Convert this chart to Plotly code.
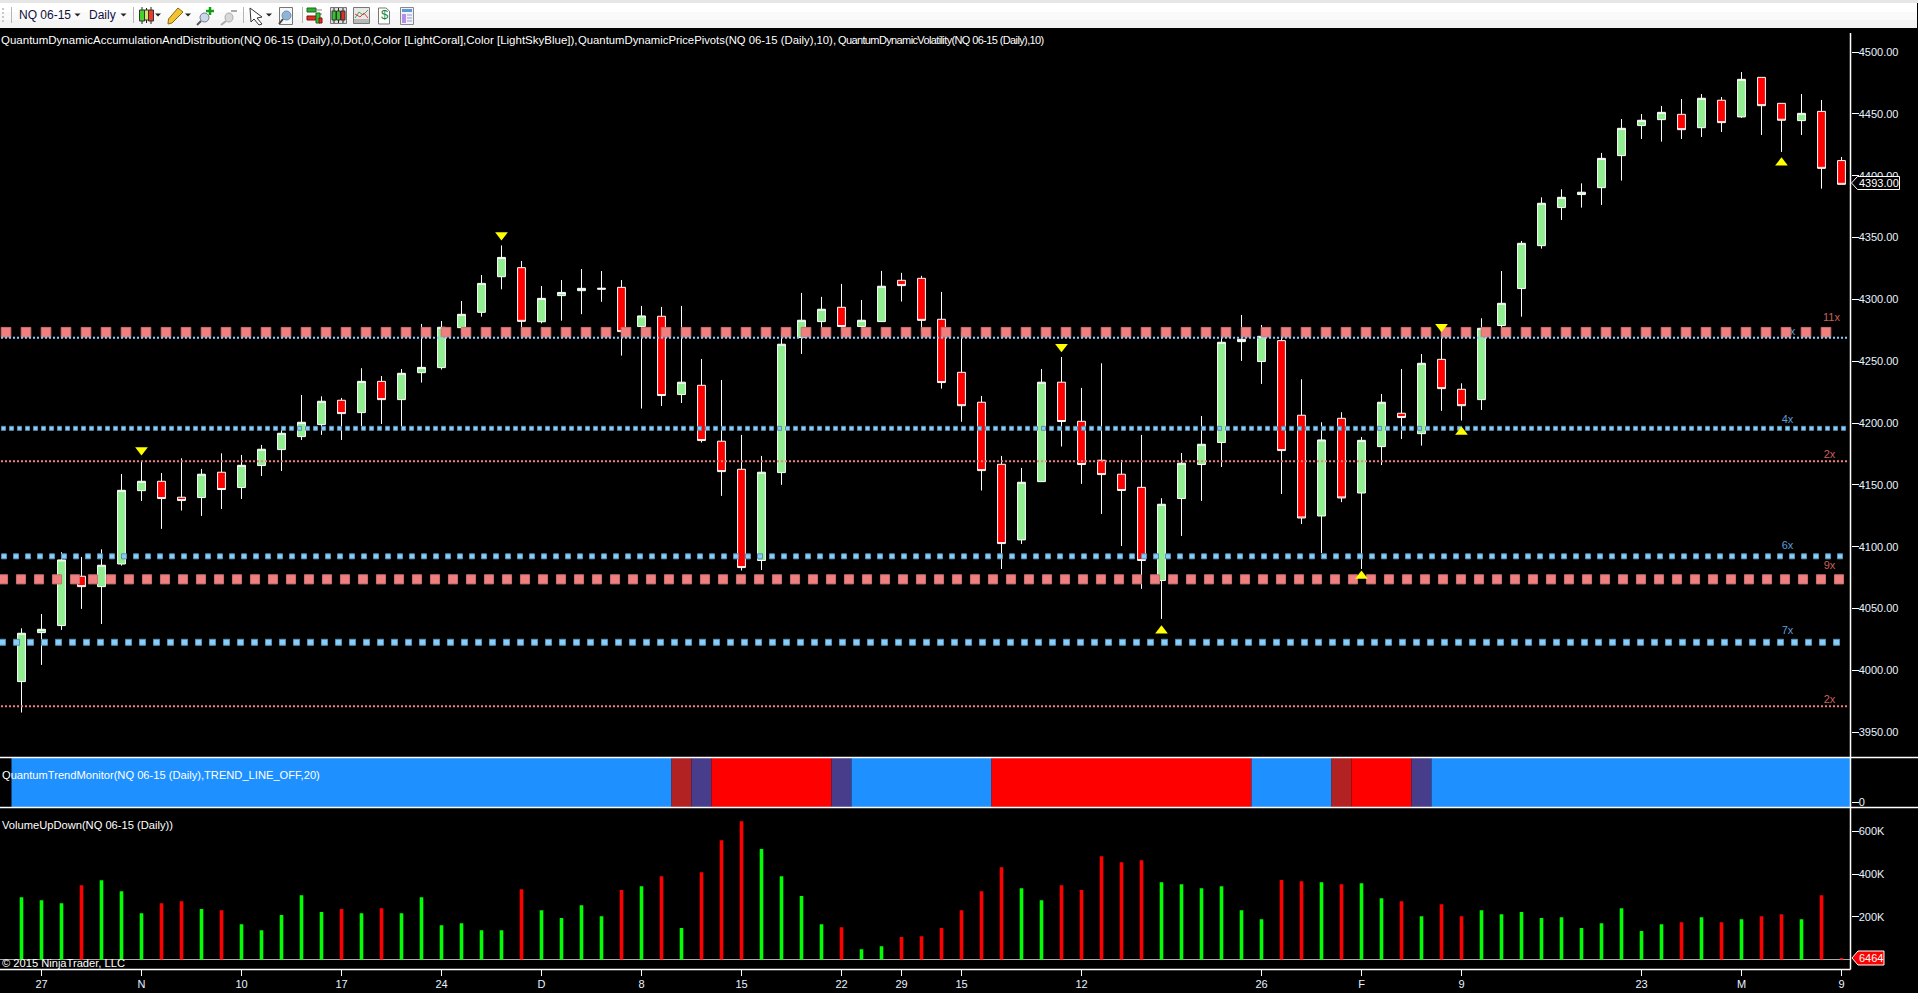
import numpy as np
import plotly.graph_objects as go

W, H = 1918, 993

# ---------- data ----------
opens = [3990.9,4030.5,4036.2,4076.1,4067.7,4086.0,4145.3,4152.9,4140.0,4139.7,4160.2,4147.8,4165.6,4178.5,4189.0,4198.7,4218.4,4208.4,4233.7,4218.9,
         4240.7,4244.8,4277.1,4289.5,4318.3,4325.6,4281.9,4303.0,4307.0,4308.1,4309.7,4278.0,4286.3,4223.0,4230.5,4185.3,4162.6,4088.8,4159.9,4269.1,
         4282.0,4293.6,4278.0,4282.0,4315.4,4317.0,4283.9,4241.0,4216.8,4166.6,4105.5,4152.6,4233.0,4201.4,4169.9,4158.6,4148.0,4072.6,4138.9,4166.4,
         4184.2,4265.8,4249.7,4266.6,4206.3,4124.8,4203.8,4143.4,4180.9,4207.9,4191.4,4251.5,4227.3,4218.9,4278.8,4308.7,4343.4,4374.2,4384.7,4390.3,
         4416.2,4440.5,4445.3,4449.6,4438.8,4461.0,4447.5,4479.5,4458.5,4444.5,4452.0,4412.2]
closes = [4030.0,4033.2,4089.3,4067.7,4085.0,4145.6,4152.9,4138.9,4137.3,4158.6,4146.2,4165.8,4178.8,4191.7,4200.6,4217.6,4207.6,4233.7,4218.9,4240.2,
          4245.0,4277.4,4287.9,4312.9,4333.9,4282.2,4300.8,4305.6,4308.9,4308.9,4273.9,4286.6,4222.2,4233.0,4185.8,4160.7,4083.1,4160.2,4263.7,4283.1,
          4292.0,4278.0,4283.1,4310.6,4311.1,4283.0,4232.7,4214.0,4161.5,4102.5,4152.1,4233.0,4201.2,4166.4,4158.3,4145.4,4088.8,4134.3,4167.5,4182.8,
          4265.3,4267.7,4270.1,4177.7,4123.2,4186.3,4139.4,4186.0,4216.8,4204.4,4248.3,4227.8,4214.0,4276.6,4296.8,4345.3,4377.7,4382.5,4386.6,4414.0,
          4438.3,4444.8,4451.2,4437.2,4462.6,4442.9,4477.9,4456.6,4444.8,4450.4,4405.9,4393.0]
highs = [4034.0,4045.6,4095.5,4091.7,4097.9,4158.8,4169.1,4159.6,4171.5,4162.9,4175.5,4174.2,4182.3,4194.4,4222.7,4221.6,4220.3,4244.3,4238.0,4243.7,
         4280.1,4282.5,4298.7,4319.7,4343.6,4331.0,4310.8,4315.6,4324.5,4322.9,4315.6,4294.7,4293.9,4294.7,4251.8,4234.8,4190.4,4173.4,4273.6,4305.2,
         4302.0,4312.5,4299.5,4323.0,4321.4,4319.0,4306.0,4273.6,4221.9,4173.4,4163.7,4243.7,4253.4,4228.4,4248.3,4170.2,4190.4,4139.2,4175.8,4205.7,
         4269.9,4287.4,4279.3,4270.4,4235.4,4200.6,4208.7,4188.7,4223.5,4243.7,4255.8,4275.0,4232.1,4284.7,4322.9,4347.2,4382.5,4389.0,4393.8,4418.4,
         4445.8,4449.9,4456.4,4462.0,4466.0,4463.6,4483.8,4479.5,4458.5,4466.0,4461.2,4415.1]
lows = [3965.9,4004.4,4032.7,4049.7,4037.5,4084.7,4137.0,4114.4,4129.2,4124.9,4130.5,4138.6,4157.2,4161.2,4186.3,4190.4,4186.3,4197.6,4199.2,4196.8,
        4232.7,4243.2,4272.5,4286.0,4308.1,4269.3,4280.6,4282.7,4288.0,4298.0,4254.5,4211.7,4213.8,4216.2,4184.2,4141.1,4080.7,4081.2,4150.0,4255.9,
        4276.6,4274.7,4277.4,4282.0,4298.2,4273.9,4227.8,4201.0,4145.4,4082.0,4102.2,4152.6,4181.0,4150.8,4126.5,4100.6,4065.9,4041.6,4108.7,4137.0,
        4164.5,4250.2,4231.6,4142.6,4118.3,4094.9,4136.0,4082.0,4166.0,4187.0,4181.7,4209.8,4202.0,4210.6,4271.2,4286.0,4341.0,4364.2,4374.2,4376.3,
        4396.0,4429.7,4427.5,4429.7,4431.3,4435.3,4446.7,4432.9,4419.2,4432.9,4389.5,4393.0]

volumes = [292,278,264,348,371,320,217,264,273,236,231,165,137,208,301,222,236,217,240,217,
           292,161,170,137,137,329,231,194,254,203,325,343,390,147,409,559,648,517,390,297,
           165,151,48,62,105,109,147,231,320,432,334,278,348,325,484,456,465,362,353,334,
           343,231,189,372,367,362,353,357,287,273,203,259,203,231,212,222,194,198,147,170,
           240,133,165,175,198,175,189,203,212,189,301,6.464]
volume_dir = list("GGGRGGGRRGRGGGGGRGRGGGGGGRGGGGRGRGRRRGGGGRGGRRRRRRGGRRRRRGGGGGGRRGRGGRGRRGGGGGGGGGGRGRGRRGRR")

trend_runs = [(33,"blue"),(1,"firebrick"),(1,"slate"),(6,"red"),(1,"slate"),(7,"blue"),(13,"red"),(4,"blue"),(1,"firebrick"),(3,"red"),(1,"slate"),(21,"blue")]

pivot_down_idx = [6,24,52,71]
pivot_down_price = [4178.2,4352.0,4261.7,4277.9]
pivot_up_idx = [57,67,72,88]
pivot_up_price = [4032.0,4076.3,4192.7,4410.5]

level_prices  = [4273.4,4268.9,4195.7,4169.0,4092.2,4073.6,4022.7,3970.9]
level_colors  = ["coral","blue","blue","coral","blue","coral","blue","coral"]
level_steps   = [20,4,8,4,12,18,14,4]
level_sizes   = [10,2,5,2,6,9.5,7,2]
level_starts  = [6,2,3.5,2,4,3,2.5,2]

label_text  = ["11x","9x","4x","2x","6x","9x","7x","2x"]
label_color = ["coral","blue","blue","coral","blue","coral","blue","coral"]
label_idx   = [90.5,88.4,88.3,90.4,88.3,90.4,88.3,90.4]
label_price = [4284.9,4273.6,4202.4,4174.1,4100.5,4084.4,4031.8,3976.0]

x_tick_idx  = [1,6,11,16,21,26,31,36,41,44,47,53,62,67,72,81,86,91]
x_tick_text = ["27","N","10","17","24","D","8","15","22","29","15","12","26","F","9","23","M","9"]
price_ticks = list(range(3950,4501,50))
volume_ticks = [200,400,600]
volume_tick_text = ["200K","400K","600K"]

# ---------- geometry helpers ----------
X0 = 21.5; DX = 20.0; AXIS_X = 1850.5
xrange_ = [-X0/DX, (AXIS_X-X0)/DX]
def px(x): return x/W
def py(y): return 1-y/H
def dom(t,b): return [py(b),py(t)]

FONT = "Liberation Sans"
TICK = "#e8f3ff"
COL = dict(coral="#F08080", blue="#87CEFA")
EDGE = dict(coral="#c87070", blue="#5c8fb0")
LABEL = dict(coral="#c8605c", blue="#5f9ed8")
TREND = dict(blue="#1E90FF", red="#FF0000", firebrick="#B22222", slate="#483D8B")

fig = go.Figure()

# level labels (beneath the dots)
for t,c,i,p in zip(label_text,label_color,label_idx,label_price):
    fig.add_trace(go.Scatter(x=[i],y=[p],mode="text",text=[t],textposition="middle center",
                             textfont=dict(family=FONT,size=11,color=LABEL[c]),hoverinfo="skip",showlegend=False))
# levels
for p,c,st,sz,s0 in zip(level_prices,level_colors,level_steps,level_sizes,level_starts):
    pix = np.arange(s0,AXIS_X-sz/2,st)
    big = sz>3
    msize = sz if not big else (sz-0.4 if c=="coral" else sz-1)
    fig.add_trace(go.Scatter(x=(pix-X0)/DX,y=[p]*len(pix),mode="markers",
        marker=dict(symbol="square",size=msize,color=COL[c],line=dict(width=1 if big else 0,color=EDGE[c])),
        hoverinfo="skip",showlegend=False))
# candles
idx = list(range(len(opens)))
fig.add_trace(go.Candlestick(x=idx,open=opens,high=highs,low=lows,close=closes,
    increasing=dict(line=dict(color="white",width=1),fillcolor="#90EE90"),
    decreasing=dict(line=dict(color="white",width=1),fillcolor="#FF0000"),
    whiskerwidth=0,hoverinfo="skip",showlegend=False))
# pivots
fig.add_trace(go.Scatter(x=pivot_down_idx,y=pivot_down_price,mode="markers",marker=dict(symbol="triangle-down",size=11,color="#FFFF00"),hoverinfo="skip",showlegend=False))
fig.add_trace(go.Scatter(x=pivot_up_idx,y=pivot_up_price,mode="markers",marker=dict(symbol="triangle-up",size=11,color="#FFFF00"),hoverinfo="skip",showlegend=False))

# trend monitor: one bar per run, so no seams appear inside a run
run_lengths = [n for n,_ in trend_runs]
run_starts = np.cumsum([0]+run_lengths[:-1])
fig.add_trace(go.Bar(x=[s+(n-1)/2 for s,n in zip(run_starts,run_lengths)],y=[50]*len(trend_runs),base=[-5]*len(trend_runs),width=run_lengths,
                     marker=dict(color=[TREND[s] for _,s in trend_runs],line=dict(width=0)),
                     xaxis="x2",yaxis="y2",hoverinfo="skip",showlegend=False))
# volume
fig.add_trace(go.Bar(x=idx,y=volumes,width=0.18,marker=dict(color=["#00FF00" if d=="G" else "#FF0000" for d in volume_dir],line=dict(width=0)),
                     xaxis="x3",yaxis="y3",hoverinfo="skip",showlegend=False))

# ---------- decoration ----------
shapes=[]
def rect(x0,y0,x1,y1,fill,line=None,lw=1):
    shapes.append(dict(type="rect",xref="paper",yref="paper",x0=px(x0),x1=px(x1),y0=py(y0),y1=py(y1),fillcolor=fill,
                       line=dict(color=line or fill,width=lw if line else 0),layer="above"))
def seg(x0,y0,x1,y1,color,lw=1):
    shapes.append(dict(type="line",xref="paper",yref="paper",x0=px(x0),x1=px(x1),y0=py(y0),y1=py(y1),line=dict(color=color,width=lw),layer="above"))
def poly(pts,fill,line=None,lw=1):
    d="M"+" L".join(f"{px(a):.6f},{py(b):.6f}" for a,b in pts)+" Z"
    shapes.append(dict(type="path",xref="paper",yref="paper",path=d,fillcolor=fill,line=dict(color=line or fill,width=lw if line else 0),layer="above"))
def arrow(x,y=15): poly([(x-3,y-1.5),(x+3,y-1.5),(x,y+1.5)],"#222222")

# pane separators & axis
seg(0,757.5,W,757.5,"white",1.5)
seg(0,807.5,W,807.5,"white",1.5)
seg(0,969.5,AXIS_X,969.5,"white",1.5)
seg(AXIS_X,33,AXIS_X,969.5,"white",1.5)

# toolbar
rect(0,0,W,3,"#e6e6e6")
rect(0,3,1917,12,"#ffffff")
rect(0,12,1917,20,"#fafafa")
rect(0,20,1917,28,"#f3f3f3")
for sx in (11.5,133.5,243.5,302.5): seg(sx,7,sx,23,"#b5b5b5",1)
for dy in (8,12,16,20): rect(2,dy,4,dy+2,"#c8c8c8")
arrow(77.5); arrow(123.5); arrow(158); arrow(188); arrow(269)
# candle icon
for cx,c in ((142,"#45d22c"),(151,"#f03a2a")):
    seg(cx,7,cx,24,"#222222",1); rect(cx-2.5,10,cx+2.5,21,c,"#333333",1)
seg(146.5,8,146.5,23,"#222222",1); rect(144.5,10,148.5,20,"#cfe96a","#333333",1)
# pencil
poly([(178,8),(183,12),(172,23),(168,24),(168.5,19)],"#f4c430","#8a6a10",1)
# magnifier plus
shapes.append(dict(type="circle",xref="paper",yref="paper",x0=px(200),x1=px(209),y0=py(22),y1=py(13),fillcolor="#c7d8ea",line=dict(color="#778",width=1),layer="above"))
seg(201,21,197,25,"#555555",2)
seg(210,7,210,15,"#12a012",2.5); seg(206,11,214,11,"#12a012",2.5)
# grey magnifier
shapes.append(dict(type="circle",xref="paper",yref="paper",x0=px(225),x1=px(233),y0=py(22),y1=py(13),fillcolor="#d8d8d8",line=dict(color="#aaaaaa",width=1),layer="above"))
seg(226,21,221,25,"#aaaaaa",2); seg(231,11,237,11,"#aaaaaa",2)
# cursor
poly([(250,8),(262,17),(257,18),(262,24),(259,25),(254,19),(251,22)],"#ffffff","#333333",1)
# magnifier in page
rect(279.5,7.5,292.5,24.5,"#f6f6f6","#777777",1)
shapes.append(dict(type="circle",xref="paper",yref="paper",x0=px(282),x1=px(291),y0=py(20),y1=py(11),fillcolor="#8fb4da",line=dict(color="#6a8fb0",width=1),layer="above"))
seg(283,19,279,24,"#444444",2)
# tool icons
rect(307,8,316,12,"#30b030","#1a6a1a",1); rect(307,16,316,20,"#e03020","#801010",1)
seg(316,10,322,10,"#888888",1); seg(316,14,322,14,"#888888",1)
rect(316,13,320,23,"#30c030","#1a6a1a",1); rect(319,18,322,23,"#e03020","#801010",1)
rect(330.5,7.5,346.5,23.5,"#dddddd","#777777",1)
for cx,c in ((334,"#38c030"),(338.5,"#38c030"),(343,"#e03020")):
    seg(cx,8,cx,23,"#222222",1); rect(cx-2,11,cx+2,20,c,"#333333",1)
rect(353.5,7.5,369.5,23.5,"#e8e8e8","#777777",1)
rect(354,19,369,23,"#b8b8b8")
shapes.append(dict(type="path",xref="paper",yref="paper",path="M"+" L".join(f"{px(a):.6f},{py(b):.6f}" for a,b in [(355,18),(359,12),(363,15),(368,10)]),line=dict(color="#40a860",width=1),layer="above"))
shapes.append(dict(type="path",xref="paper",yref="paper",path="M"+" L".join(f"{px(a):.6f},{py(b):.6f}" for a,b in [(355,14),(360,17),(364,13),(368,18)]),line=dict(color="#e04040",width=1),layer="above"))
poly([(378.5,8),(386,8),(389.5,11),(389.5,24),(378.5,24)],"#ffffff","#777777",1)
rect(400.5,7.5,413.5,24.5,"#f0f0ff","#888888",1)
rect(402,9,412,12,"#5b9bd5")
rect(402,14,406,23,"#b48ee8")
for ly in (15,18,21): seg(407,ly,412,ly,"#9a9ab8",1)

# price tag and volume tag
poly([(1851.5,183),(1857.5,176.5),(1899.5,176.5),(1899.5,189.5),(1857.5,189.5)],"#000000","white",1)
poly([(1852,958),(1858,951),(1884,951),(1884,965),(1858,965)],"#FF0000","white",1)

def note(x,y,t,color="white",size=11,xanchor="left",family=FONT):
    return dict(xref="paper",yref="paper",x=px(x),y=py(y),text=t,showarrow=False,xanchor=xanchor,yanchor="middle",align="left",
                font=dict(family=family,size=size,color=color),borderpad=0,borderwidth=0)
annotations=[
    note(19,15,"NQ 06-15","#101040",12),
    note(89,15,"Daily","#101040",12),
    note(381,15,"$","#128a3a",13),
    note(1,40,"QuantumDynamicAccumulationAndDistribution(NQ 06-15 (Daily),0,Dot,0,Color [LightCoral],Color [LightSkyBlue]),",size=11.5),
    note(578,40,"QuantumDynamicPricePivots(NQ 06-15 (Daily),10),",size=11.3),
    note(838,40,"QuantumDynamicVolatility(NQ 06-15 (Daily),10)",size=11),
    note(2,775,"QuantumTrendMonitor(NQ 06-15 (Daily),TREND_LINE_OFF,20)",size=11.15),
    note(2,825,"VolumeUpDown(NQ 06-15 (Daily))",size=11.15),
    note(2,963,"© 2015 NinjaTrader, LLC",size=11.15),
    note(1859,183,"4393.00","white",11),
    note(1859,958,"6464","white",11),
]

axis_common = dict(showgrid=False,zeroline=False,showline=False)
fig.update_layout(
    width=W,height=H,autosize=False,margin=dict(l=0,r=0,t=0,b=0),
    paper_bgcolor="black",plot_bgcolor="black",showlegend=False,boxgap=0.44,barmode="overlay",
    font=dict(family=FONT,size=11,color=TICK),
    shapes=shapes,annotations=annotations,
    xaxis=dict(domain=[0,px(AXIS_X)],range=xrange_,showticklabels=False,ticks="",rangeslider=dict(visible=False),anchor="y",**axis_common),
    xaxis2=dict(domain=[0,px(AXIS_X)],range=xrange_,showticklabels=False,ticks="",anchor="y2",**axis_common),
    xaxis3=dict(domain=[0,px(AXIS_X)],range=xrange_,anchor="y3",tickmode="array",tickvals=x_tick_idx,ticktext=x_tick_text,
                ticks="outside",ticklen=6,tickcolor="white",tickwidth=1,tickangle=0,tickfont=dict(family=FONT,size=11,color=TICK),
                ticklabelstandoff=-1,**axis_common),
    yaxis=dict(domain=dom(28,757),range=[4500-(757-52)/1.2367,4500+(52-28)/1.2367],side="right",anchor="x",tickmode="array",
               tickvals=price_ticks,ticktext=[f"{v}.00" for v in price_ticks],ticks="outside",ticklen=7,tickcolor="white",tickwidth=1,
               ticklabelstandoff=-2,tickfont=dict(family=FONT,size=11,color=TICK),**axis_common),
    yaxis2=dict(domain=dom(758,807),range=[-5,45],side="right",anchor="x2",tickmode="array",tickvals=[0],ticktext=["0"],ticks="outside",ticklen=7,
                ticklabelstandoff=-2,tickcolor="white",tickwidth=1,tickfont=dict(family=FONT,size=11,color=TICK),showgrid=False,zeroline=False,showline=False),
    yaxis3=dict(domain=dom(808,969),range=[-(969-959.5)/0.2135,(959.5-808)/0.2135],side="right",anchor="x3",tickmode="array",tickvals=volume_ticks,
                ticktext=volume_tick_text,ticks="outside",ticklen=7,tickcolor="white",tickwidth=1,tickfont=dict(family=FONT,size=11,color=TICK),
                ticklabelstandoff=-2,showgrid=False,showline=False,zeroline=True,zerolinecolor="#A9A9A9",zerolinewidth=1),
)

# the third title is drawn with tightly packed letters in the reference
post = """
document.body.style.margin='0';document.body.style.background='black';document.body.style.overflow='hidden';
document.querySelectorAll('.annotation-text').forEach(function(t){
  if(t.textContent.indexOf('QuantumDynamicVolatility')===0){t.style.letterSpacing='-0.62px';}
});
"""
fig.write_html("out.html",config=dict(displayModeBar=False,staticPlot=True),post_script=post)
